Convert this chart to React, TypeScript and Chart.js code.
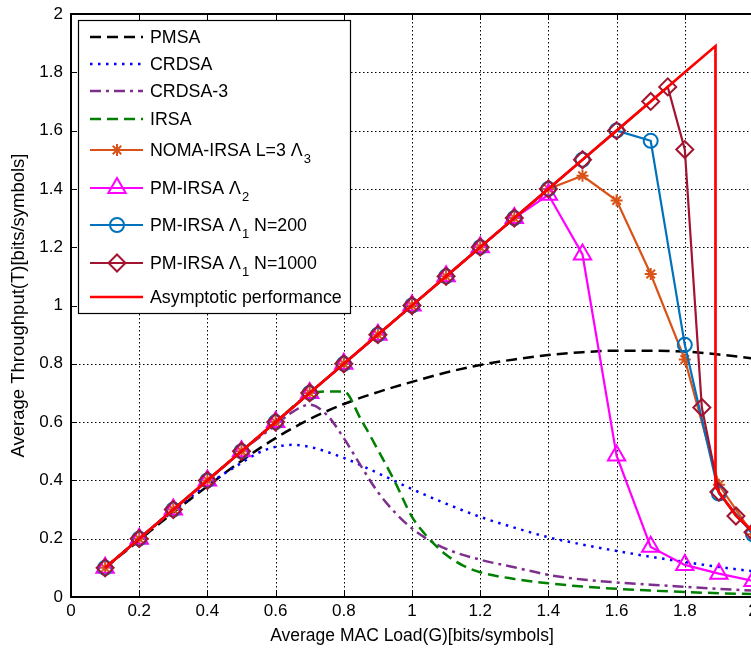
import React, { useEffect, useRef } from "react";
import { Chart, registerables } from "chart.js";

Chart.register(...registerables);

const FONT = "'Liberation Sans', Arial, Helvetica, sans-serif";

// ---------- axes ----------
const xTickValues = [0, 0.2, 0.4, 0.6, 0.8, 1, 1.2, 1.4, 1.6, 1.8, 2];
const xTickLabels = ["0", "0.2", "0.4", "0.6", "0.8", "1", "1.2", "1.4", "1.6", "1.8", "2"];
const yTickValues = [0, 0.2, 0.4, 0.6, 0.8, 1, 1.2, 1.4, 1.6, 1.8, 2];
const yTickLabels = ["0", "0.2", "0.4", "0.6", "0.8", "1", "1.2", "1.4", "1.6", "1.8", "2"];
const xTitle = "Average MAC Load(G)[bits/symbols]";
const yTitle = "Average Throughput(T)[bits/symbols]";

// ---------- series ----------
const pmsaLoad = [0.1, 0.2, 0.3, 0.4, 0.5, 0.6, 0.7, 0.8, 0.9, 1.0, 1.1, 1.2, 1.3, 1.4, 1.5, 1.6, 1.7, 1.8, 1.9, 2.0];
const pmsaT = [0.1, 0.195, 0.29, 0.38, 0.467, 0.545, 0.61, 0.662, 0.703, 0.738, 0.77, 0.796, 0.815, 0.83, 0.84, 0.845, 0.845, 0.842, 0.832, 0.818];

const crdsaLoad = [0.1, 0.2, 0.3, 0.4, 0.5, 0.55, 0.6, 0.65, 0.7, 0.8, 0.9, 1.0, 1.1, 1.2, 1.3, 1.4, 1.5, 1.6, 1.7, 1.8, 1.9, 2.0];
const crdsaT = [0.1, 0.2, 0.295, 0.385, 0.46, 0.495, 0.515, 0.522, 0.515, 0.477, 0.425, 0.37, 0.32, 0.275, 0.238, 0.205, 0.18, 0.158, 0.138, 0.12, 0.103, 0.088];

const crdsa3Load = [0.1, 0.2, 0.3, 0.4, 0.5, 0.6, 0.65, 0.7, 0.75, 0.8, 0.85, 0.9, 0.95, 1.0, 1.05, 1.1, 1.2, 1.3, 1.4, 1.5, 1.6, 1.7, 1.8, 1.9, 2.0];
const crdsa3T = [0.1, 0.2, 0.3, 0.4, 0.5, 0.59, 0.635, 0.66, 0.625, 0.545, 0.45, 0.36, 0.29, 0.235, 0.195, 0.165, 0.128, 0.102, 0.076, 0.06, 0.05, 0.042, 0.035, 0.028, 0.022];

const irsaLoad = [0.1, 0.2, 0.3, 0.4, 0.5, 0.6, 0.7, 0.75, 0.8, 0.85, 0.9, 0.95, 1.0, 1.05, 1.1, 1.15, 1.2, 1.3, 1.4, 1.5, 1.6, 1.7, 1.8, 1.9, 2.0];
const irsaT = [0.1, 0.2, 0.3, 0.4, 0.5, 0.6, 0.695, 0.705, 0.705, 0.61, 0.505, 0.395, 0.275, 0.2, 0.145, 0.108, 0.085, 0.062, 0.047, 0.036, 0.028, 0.022, 0.017, 0.013, 0.01];

const markLoad = [0.1, 0.2, 0.3, 0.4, 0.5, 0.6, 0.7, 0.8, 0.9, 1.0, 1.1, 1.2, 1.3, 1.4, 1.5, 1.6, 1.7, 1.8, 1.9, 2.0];
const nomaT = [0.1, 0.2, 0.3, 0.4, 0.5, 0.6, 0.7, 0.8, 0.9, 1.0, 1.1, 1.2, 1.3, 1.4, 1.445, 1.36, 1.108, 0.815, 0.385, 0.215];
const pmL2T = [0.1, 0.2, 0.3, 0.4, 0.5, 0.6, 0.7, 0.8, 0.9, 1.0, 1.1, 1.2, 1.3, 1.38, 1.175, 0.485, 0.172, 0.11, 0.08, 0.055];
const pmN200T = [0.1, 0.2, 0.3, 0.4, 0.5, 0.6, 0.7, 0.8, 0.9, 1.0, 1.1, 1.2, 1.3, 1.4, 1.5, 1.6, 1.565, 0.865, 0.355, 0.215];

const pmN1000Load = [0.1, 0.2, 0.3, 0.4, 0.5, 0.6, 0.7, 0.8, 0.9, 1.0, 1.1, 1.2, 1.3, 1.4, 1.5, 1.6, 1.7, 1.75, 1.8, 1.85, 1.9, 1.95, 2.0];
const pmN1000T = [0.1, 0.2, 0.3, 0.4, 0.5, 0.6, 0.7, 0.8, 0.9, 1.0, 1.1, 1.2, 1.3, 1.4, 1.5, 1.6, 1.7, 1.75, 1.535, 0.65, 0.36, 0.278, 0.222];

const asymLoad = [0.1, 0.2, 0.3, 0.4, 0.5, 0.6, 0.7, 0.8, 0.9, 1.0, 1.1, 1.2, 1.3, 1.4, 1.5, 1.6, 1.7, 1.8, 1.89, 1.89, 1.9, 1.95, 2.0];
const asymT = [0.1, 0.2, 0.3, 0.4, 0.5, 0.6, 0.7, 0.8, 0.9, 1.0, 1.1, 1.2, 1.3, 1.4, 1.5, 1.6, 1.7, 1.8, 1.89, 0.38, 0.36, 0.28, 0.225];

// ---------- legend text ----------
const legendMain = ["PMSA", "CRDSA", "CRDSA-3", "IRSA", "NOMA-IRSA L=3 \u039B", "PM-IRSA \u039B", "PM-IRSA \u039B", "PM-IRSA \u039B", "Asymptotic performance"];
const legendSub = ["", "", "", "", "3", "2", "1", "1", ""];
const legendTail = ["", "", "", "", "", "", " N=200", " N=1000", ""];

type Style = { color: string; dash: number[]; width: number; marker: string; r: number };
const sPMSA: Style = { color: "#000000", dash: [11, 6], width: 2.5, marker: "", r: 0 };
const sCRDSA: Style = { color: "#0000FF", dash: [2.5, 5.5], width: 2.5, marker: "", r: 0 };
const sCRDSA3: Style = { color: "#7E2F8E", dash: [11, 5, 3, 5], width: 2.5, marker: "", r: 0 };
const sIRSA: Style = { color: "#008000", dash: [11, 6], width: 2.5, marker: "", r: 0 };
const sNOMA: Style = { color: "#D95319", dash: [], width: 2.2, marker: "star", r: 6 };
const sL2: Style = { color: "#FF00FF", dash: [], width: 2.2, marker: "triangle", r: 10 };
const sN200: Style = { color: "#0072BD", dash: [], width: 2.2, marker: "circle", r: 7 };
const sN1000: Style = { color: "#A2142F", dash: [], width: 2.2, marker: "rectRot", r: 8.5 };
const sAsym: Style = { color: "#FF0000", dash: [], width: 2.7, marker: "", r: 0 };
const legendStyles = [sPMSA, sCRDSA, sCRDSA3, sIRSA, sNOMA, sL2, sN200, sN1000, sAsym];

const zip = (xs: number[], ys: number[]) => xs.map((x, i) => ({ x, y: ys[i] }));

function makeDataset(label: string, xs: number[], ys: number[], s: Style, smooth: boolean, order: number) {
  return {
    label,
    data: zip(xs, ys),
    borderColor: s.color,
    backgroundColor: "rgba(0,0,0,0)",
    borderWidth: s.width,
    borderDash: s.dash,
    pointStyle: s.marker || "circle",
    pointRadius: s.marker ? s.r : 0,
    pointHoverRadius: s.marker ? s.r : 0,
    pointBorderWidth: 2,
    pointBorderColor: s.color,
    pointBackgroundColor: "rgba(0,0,0,0)",
    tension: 0,
    cubicInterpolationMode: smooth ? "monotone" : "default",
    fill: false,
    order,
  };
}

function drawMarker(ctx: CanvasRenderingContext2D, style: string, x: number, y: number, r: number) {
  ctx.beginPath();
  if (style === "circle") {
    ctx.arc(x, y, r, 0, Math.PI * 2);
  } else if (style === "triangle") {
    for (let k = 0; k < 3; k++) {
      const a = (k * 2 * Math.PI) / 3;
      const px = x + Math.sin(a) * r;
      const py = y - Math.cos(a) * r;
      if (k === 0) ctx.moveTo(px, py);
      else ctx.lineTo(px, py);
    }
    ctx.closePath();
  } else if (style === "rectRot") {
    ctx.moveTo(x, y - r);
    ctx.lineTo(x + r, y);
    ctx.lineTo(x, y + r);
    ctx.lineTo(x - r, y);
    ctx.closePath();
  } else if (style === "star") {
    for (let k = 0; k < 4; k++) {
      const a = (k * Math.PI) / 4;
      ctx.moveTo(x - Math.cos(a) * r, y - Math.sin(a) * r);
      ctx.lineTo(x + Math.cos(a) * r, y + Math.sin(a) * r);
    }
  }
  ctx.stroke();
}

const gridPlugin = {
  id: "matlabGrid",
  beforeDatasetsDraw(chart: any) {
    const { ctx, chartArea: a, scales } = chart;
    ctx.save();
    ctx.strokeStyle = "#000";
    ctx.lineWidth = 1;
    ctx.setLineDash([1.5, 2.5]);
    xTickValues.forEach((v) => {
      const px = Math.round(scales.x.getPixelForValue(v)) + 0.5;
      ctx.beginPath();
      ctx.moveTo(px, a.top);
      ctx.lineTo(px, a.bottom);
      ctx.stroke();
    });
    yTickValues.forEach((v) => {
      const py = Math.round(scales.y.getPixelForValue(v)) + 0.5;
      ctx.beginPath();
      ctx.moveTo(a.left, py);
      ctx.lineTo(a.right, py);
      ctx.stroke();
    });
    ctx.restore();
  },
  afterDatasetsDraw(chart: any) {
    const { ctx, chartArea: a, scales } = chart;
    ctx.save();
    ctx.strokeStyle = "#000";
    ctx.setLineDash([]);
    ctx.lineWidth = 2;
    ctx.beginPath();
    ctx.moveTo(a.left - 1, a.top);
    ctx.lineTo(a.right + 1, a.top);
    ctx.stroke();
    ctx.lineWidth = 1;
    const tl = 6;
    xTickValues.forEach((v) => {
      const px = Math.round(scales.x.getPixelForValue(v)) + 0.5;
      ctx.beginPath();
      ctx.moveTo(px, a.bottom);
      ctx.lineTo(px, a.bottom - tl);
      ctx.moveTo(px, a.top);
      ctx.lineTo(px, a.top + tl);
      ctx.stroke();
    });
    yTickValues.forEach((v) => {
      const py = Math.round(scales.y.getPixelForValue(v)) + 0.5;
      ctx.beginPath();
      ctx.moveTo(a.left, py);
      ctx.lineTo(a.left + tl, py);
      ctx.stroke();
    });
    ctx.restore();
  },
};

const legendPlugin = {
  id: "matlabLegend",
  afterDraw(chart: any) {
    const ctx: CanvasRenderingContext2D = chart.ctx;
    const box = { l: 78.5, t: 20.5, r: 350.5, b: 313.5 };
    const rows = [37, 64, 91, 119, 150, 188, 225, 263, 297];
    ctx.save();
    ctx.fillStyle = "#fff";
    ctx.fillRect(box.l, box.t, box.r - box.l, box.b - box.t);
    ctx.strokeStyle = "#000";
    ctx.lineWidth = 1.2;
    ctx.setLineDash([]);
    ctx.strokeRect(box.l, box.t, box.r - box.l, box.b - box.t);
    legendStyles.forEach((s, i) => {
      const y = rows[i];
      ctx.strokeStyle = s.color;
      ctx.lineWidth = s.width;
      ctx.setLineDash(s.dash);
      ctx.beginPath();
      ctx.moveTo(90, y);
      ctx.lineTo(143, y);
      ctx.stroke();
      ctx.setLineDash([]);
      if (s.marker) {
        ctx.lineWidth = 2;
        drawMarker(ctx, s.marker, 117, y, s.r);
      }
      ctx.fillStyle = "#000";
      ctx.textBaseline = "middle";
      ctx.textAlign = "left";
      ctx.font = `17.8px ${FONT}`;
      let x = 150;
      ctx.fillText(legendMain[i], x, y + 1);
      x += ctx.measureText(legendMain[i]).width;
      if (legendSub[i]) {
        ctx.font = `13px ${FONT}`;
        ctx.fillText(legendSub[i], x + 1, y + 9);
        x += ctx.measureText(legendSub[i]).width + 1;
      }
      if (legendTail[i]) {
        ctx.font = `17.8px ${FONT}`;
        ctx.fillText(legendTail[i], x, y + 1);
      }
    });
    ctx.restore();
  },
};

export default function App() {
  const ref = useRef<HTMLCanvasElement | null>(null);
  useEffect(() => {
    if (!ref.current) return;
    const chart = new Chart(ref.current, {
      type: "line",
      data: {
        datasets: [
          makeDataset("Asymptotic performance", asymLoad, asymT, sAsym, false, 0),
          makeDataset("PM-IRSA N=1000", pmN1000Load, pmN1000T, sN1000, false, 1),
          makeDataset("PM-IRSA N=200", markLoad, pmN200T, sN200, false, 2),
          makeDataset("PM-IRSA L2", markLoad, pmL2T, sL2, false, 3),
          makeDataset("NOMA-IRSA", markLoad, nomaT, sNOMA, false, 4),
          makeDataset("IRSA", irsaLoad, irsaT, sIRSA, true, 5),
          makeDataset("CRDSA-3", crdsa3Load, crdsa3T, sCRDSA3, true, 6),
          makeDataset("CRDSA", crdsaLoad, crdsaT, sCRDSA, true, 7),
          makeDataset("PMSA", pmsaLoad, pmsaT, sPMSA, true, 8),
        ] as any,
      },
      options: {
        responsive: false,
        animation: false,
        devicePixelRatio: 1,
        layout: { autoPadding: false, padding: { left: 0, right: 7, top: 14, bottom: 0 } },
        plugins: { legend: { display: false }, tooltip: { enabled: false } },
        events: [],
        scales: {
          x: {
            type: "linear",
            min: 0,
            max: 2,
            afterFit: (s: any) => {
              s.height = 56;
              s.paddingLeft = 0;
              s.paddingRight = 0;
              s.paddingTop = 0;
              s.paddingBottom = 0;
            },
            afterBuildTicks: (s: any) => {
              s.ticks = xTickValues.map((v) => ({ value: v }));
            },
            ticks: {
              callback: (_v: any, i: number) => xTickLabels[i],
              color: "#000",
              font: { family: FONT, size: 17 },
              padding: 4,
              autoSkip: false,
              maxRotation: 0,
              minRotation: 0,
            },
            grid: { display: false, drawTicks: false },
            border: { display: true, color: "#000", width: 2 },
            title: {
              display: true,
              text: xTitle,
              color: "#000",
              font: { family: FONT, size: 17.5 },
              padding: { top: 0, bottom: 6 },
            },
          },
          y: {
            type: "linear",
            min: 0,
            max: 2,
            afterFit: (s: any) => {
              s.width = 71;
              s.paddingLeft = 0;
              s.paddingRight = 0;
              s.paddingTop = 0;
              s.paddingBottom = 0;
            },
            afterBuildTicks: (s: any) => {
              s.ticks = yTickValues.map((v) => ({ value: v }));
            },
            ticks: {
              callback: (_v: any, i: number) => yTickLabels[i],
              color: "#000",
              font: { family: FONT, size: 17 },
              padding: 8,
              autoSkip: false,
            },
            grid: { display: false, drawTicks: false },
            border: { display: true, color: "#000", width: 2 },
            title: {
              display: true,
              text: yTitle,
              color: "#000",
              font: { family: FONT, size: 18.5 },
              padding: { top: 8, bottom: 0 },
            },
          },
        },
      } as any,
      plugins: [gridPlugin, legendPlugin],
    });
    return () => chart.destroy();
  }, []);

  return (
    <div style={{ position: "fixed", left: 0, top: 0, width: 751, height: 653, overflow: "hidden", background: "#fff" }}>
      <canvas ref={ref} width={760} height={653} style={{ width: 760, height: 653, display: "block" }} />
    </div>
  );
}
